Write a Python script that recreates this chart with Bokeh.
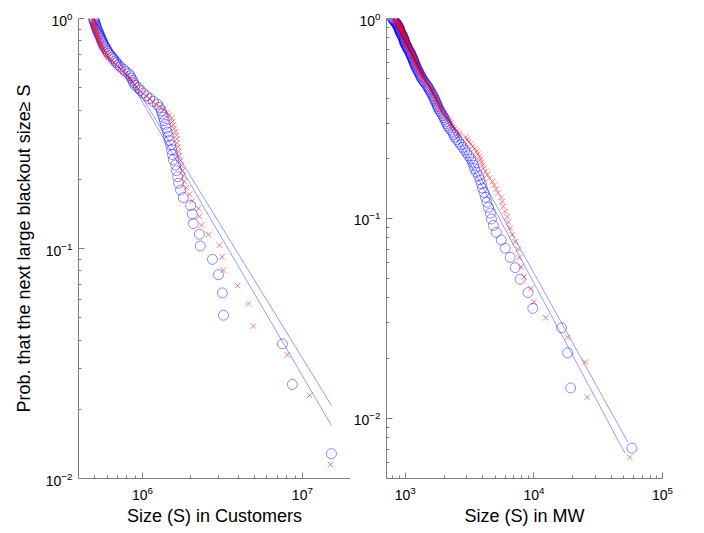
import numpy as np
from bokeh.plotting import figure
from bokeh.layouts import row
from bokeh.models import FixedTicker, Range1d
from bokeh.embed import file_html
from bokeh.resources import INLINE

# ---------------- data ----------------
# Left panel: blackout sizes in customers, sorted largest first
cust_blue = [
    1.52e7, 8.66e6, 7.5e6, 3.21e6, 3.16e6, 2.99e6, 2.74e6, 2.30e6, 2.27e6, 2.08e6,
    2.05e6, 2.0e6, 1.80e6, 1.73e6, 1.68e6, 1.66e6, 1.63e6, 1.61e6, 1.56e6, 1.54e6,
    1.52e6, 1.50e6, 1.47e6, 1.45e6, 1.43e6, 1.41e6, 1.39e6, 1.37e6, 1.35e6, 1.33e6,
    1.31e6, 1.28e6, 1.24e6, 1.17e6, 1.11e6, 1.06e6, 1.01e6, 9.7e5, 9.4e5, 9.0e5,
    8.8e5, 8.7e5, 8.5e5, 8.4e5, 8.17e5, 7.8e5, 7.6e5, 7.29e5, 7.08e5, 6.88e5,
    6.78e5, 6.59e5, 6.49e5, 6.31e5, 6.13e5, 6.04e5, 5.96e5, 5.87e5, 5.79e5, 5.70e5,
    5.66e5, 5.62e5, 5.55e5, 5.5e5, 5.46e5, 5.39e5, 5.35e5, 5.31e5, 5.24e5, 5.2e5,
    5.17e5, 5.13e5, 5.1e5, 5.07e5, 5.03e5, 5.0e5, 4.97e5, 4.94e5,
]
cust_red = [
    1.50e7, 1.11e7, 8.06e6, 4.94e6, 4.6e6, 3.93e6, 3.21e6, 3.15e6, 3.03e6, 2.59e6,
    2.34e6, 2.27e6, 2.24e6, 2.05e6, 1.97e6, 1.88e6, 1.83e6, 1.80e6, 1.78e6, 1.75e6,
    1.73e6, 1.70e6, 1.68e6, 1.67e6, 1.65e6, 1.64e6, 1.63e6, 1.61e6, 1.58e6, 1.56e6,
    1.54e6, 1.52e6, 1.47e6, 1.43e6, 1.35e6, 1.28e6, 1.21e6, 1.15e6, 1.11e6, 1.06e6,
    1.01e6, 9.7e5, 9.4e5, 9.2e5, 8.9e5, 8.7e5, 8.5e5, 8.3e5, 8.1e5, 7.8e5,
    7.6e5, 7.4e5, 7.2e5, 7.0e5, 6.8e5, 6.6e5, 6.4e5, 6.3e5, 6.1e5, 6.0e5,
    5.96e5, 5.87e5, 5.79e5, 5.70e5, 5.62e5, 5.55e5, 5.5e5, 5.46e5, 5.39e5, 5.35e5,
    5.31e5, 5.28e5, 5.24e5, 5.2e5, 5.17e5, 5.13e5, 5.1e5, 5.07e5, 5.07e5, 5.03e5,
    5.03e5, 5.0e5, 5.0e5, 4.97e5, 4.97e5, 4.94e5, 4.94e5,
]
# Right panel: blackout sizes in MW, sorted largest first
mw_blue = [
    57800, 19300, 18300, 16400, 9800, 9000, 7800, 7150, 6540, 5980,
    5570, 5100, 4840, 4670, 4590, 4430, 4310, 4200, 4090, 3980,
    3910, 3810, 3710, 3580, 3460, 3400, 3330, 3220, 3110, 3000,
    2900, 2790, 2700, 2600, 2510, 2430, 2380, 2340, 2260, 2180,
    2140, 2100, 2070, 2030, 2000, 1960, 1920, 1880, 1850, 1810,
    1790, 1770, 1750, 1720, 1700, 1680, 1660, 1640, 1610, 1590,
    1560, 1540, 1520, 1500, 1480, 1450, 1430, 1400, 1380, 1350,
    1340, 1330, 1310, 1300, 1280, 1270, 1260, 1240, 1230, 1220,
    1210, 1200, 1190, 1180, 1170, 1160, 1160, 1150, 1140, 1130,
    1120, 1110, 1110, 1100, 1090, 1080, 1070, 1060, 1050, 1040,
    1030, 1030, 1020, 1010, 1000, 995, 990, 985, 980, 980,
    975, 970, 965, 955, 950, 945, 940, 930, 925, 915,
    912, 909, 906, 903, 900, 894, 888, 882, 876, 870,
    864, 858, 852, 845, 840, 830, 822, 815, 808, 800, 794,
]
mw_red = [
    55700, 26000, 25100, 18270, 12360, 10000, 9480, 8380, 7940, 7670,
    7540, 7150, 6770, 6540, 6310, 6200, 5980, 5780, 5670, 5570,
    5280, 5100, 4920, 4750, 4510, 4350, 4200, 4060, 3980, 3910,
    3840, 3780, 3660, 3580, 3460, 3330, 3220, 3110, 3030, 2950,
    2650, 2600, 2510, 2420, 2340, 2290, 2250, 2200, 2140, 2100,
    2030, 1990, 1950, 1920, 1890, 1860, 1840, 1820, 1800, 1780,
    1760, 1740, 1720, 1700, 1680, 1650, 1630, 1610, 1590, 1570,
    1550, 1530, 1500, 1480, 1460, 1440, 1410, 1390, 1380, 1370,
    1355, 1345, 1330, 1315, 1305, 1290, 1280, 1270, 1260, 1250,
    1240, 1230, 1220, 1210, 1200, 1195, 1190, 1185, 1175, 1165,
    1155, 1150, 1145, 1140, 1130, 1120, 1110, 1100, 1095, 1085,
    1075, 1065, 1060, 1055, 1050, 1040, 1030, 1025, 1020, 1015,
    1010, 1010, 1005, 1000, 995, 990, 985, 980, 975, 970,
    962, 955, 948, 942, 938, 935, 932, 930, 927, 923,
    917, 912, 906, 900, 895, 889, 884, 878, 872, 867,
    860, 851, 844, 836, 829, 823, 818,
]
# Fitted power-law lines (two endpoints each)
cust_fit_a_x = [4.94e5, 1.52e7]
cust_fit_a_y = [1.0, 0.0208]
cust_fit_b_x = [4.94e5, 1.52e7]
cust_fit_b_y = [1.0, 0.0170]
mw_fit_a_x = [794, 53800]
mw_fit_a_y = [1.0, 0.0076]
mw_fit_b_x = [794, 51000]
mw_fit_b_y = [1.0, 0.0067]

ylabel = "Prob. that the next large blackout size\u2265 S"
xlabel_left = "Size (S) in Customers"
xlabel_right = "Size (S) in MW"

FONT = "Liberation Sans"
BLUE = "#0000ff"
RED = "#ff0000"
AXIS = "#7f7f7f"


def ccdf(sizes):
    # empirical P(S >= s) for sizes sorted largest first
    n = len(sizes)
    return np.arange(1, n + 1) / n


def minors(lo_exp, hi_exp):
    return [m * 10.0 ** e for e in range(lo_exp, hi_exp) for m in range(2, 10)]


def style(p, xt, xm, yt, ym):
    p.xaxis.ticker = FixedTicker(ticks=xt, minor_ticks=xm)
    p.yaxis.ticker = FixedTicker(ticks=yt, minor_ticks=ym)
    for ax in (p.xaxis[0], p.yaxis[0]):
        ax.axis_line_color = AXIS
        ax.major_tick_line_color = AXIS
        ax.minor_tick_line_color = AXIS
        ax.major_tick_in = 6
        ax.major_tick_out = 0
        ax.minor_tick_in = 3
        ax.minor_tick_out = 0
        ax.major_label_text_font = FONT
        ax.major_label_text_font_size = "14px"
        ax.major_label_text_color = "black"
        ax.axis_label_text_font = FONT
        ax.axis_label_text_font_size = "18px"
        ax.axis_label_text_font_style = "normal"
        ax.axis_label_text_color = "black"
    p.xaxis.major_label_standoff = 7
    p.xaxis.axis_label_standoff = 3
    p.yaxis.major_label_standoff = 6
    p.yaxis.axis_label_standoff = 9
    p.grid.visible = False
    p.outline_line_color = None
    p.background_fill_color = "white"
    p.border_fill_color = "white"


def panel(p, xb, xr, fa, fb):
    p.scatter(xb, ccdf(xb), marker="circle", size=10, fill_color=None,
              line_color=BLUE, line_alpha=0.45, line_width=1)
    p.scatter(xr, ccdf(xr), marker="x", size=8,
              line_color=RED, line_alpha=0.5, line_width=1)
    p.line(fa[0], fa[1], line_color=BLUE, line_alpha=0.4, line_width=1)
    p.line(fb[0], fb[1], line_color=BLUE, line_alpha=0.4, line_width=1)


p1 = figure(width=350, height=533, x_axis_type="log", y_axis_type="log",
            x_range=Range1d(3.98e5, 2.0e7), y_range=Range1d(0.01, 1.0),
            output_backend="svg", toolbar_location=None,
            min_border_left=78, min_border_right=0,
            min_border_top=18, min_border_bottom=55,
            x_axis_label=xlabel_left, y_axis_label=ylabel)
panel(p1, cust_blue, cust_red, (cust_fit_a_x, cust_fit_a_y), (cust_fit_b_x, cust_fit_b_y))
style(p1, [1e6, 1e7], [5e5, 6e5, 7e5, 8e5, 9e5] + minors(6, 7) + [2e7],
      [0.01, 0.1, 1.0], minors(-2, 0))

p2 = figure(width=354, height=533, x_axis_type="log", y_axis_type="log",
            x_range=Range1d(714, 1.0e5), y_range=Range1d(5.0e-3, 1.0),
            output_backend="svg", toolbar_location=None,
            min_border_left=34, min_border_right=42,
            min_border_top=18, min_border_bottom=55,
            x_axis_label=xlabel_right)
panel(p2, mw_blue, mw_red, (mw_fit_a_x, mw_fit_a_y), (mw_fit_b_x, mw_fit_b_y))
style(p2, [1e3, 1e4, 1e5], [800, 900] + minors(3, 5),
      [0.01, 0.1, 1.0], [6e-3, 7e-3, 8e-3, 9e-3] + minors(-2, 0))

layout = row(p1, p2)
open("out.html", "w").write(file_html(layout, INLINE))
